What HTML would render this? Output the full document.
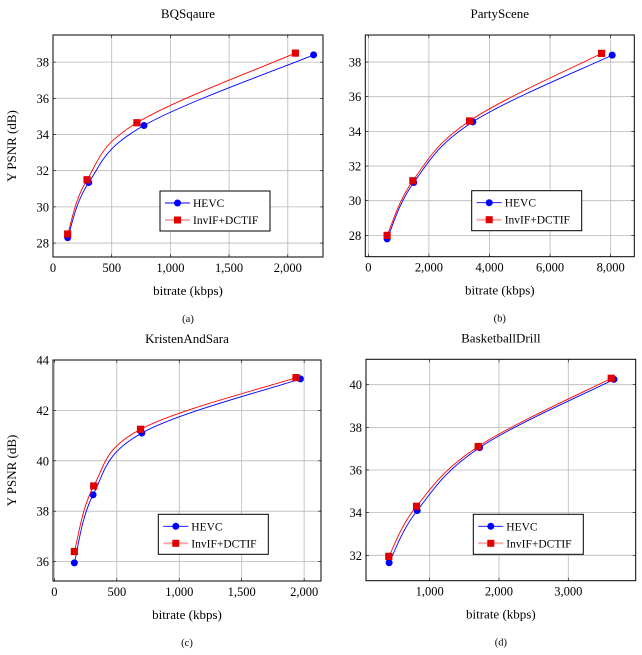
<!DOCTYPE html>
<html><head><meta charset="utf-8"><style>
body{margin:0;background:#fff;}
svg{display:block;}
text{font-family:"Liberation Serif","DejaVu Serif",serif;}
</style></head><body>
<svg id="fig" width="642" height="655" viewBox="0 0 642 655" xmlns="http://www.w3.org/2000/svg" font-family="Liberation Serif, serif"></svg>
<script>
// Panel (a) BQSqaure
const aHevcX=[125,305,775,2220];
const aHevcY=[28.3,31.35,34.5,38.4];
const aInvX=[125,290,715,2065];
const aInvY=[28.5,31.5,34.65,38.5];
const aXTicks=[0,500,1000,1500,2000];
const aXTickLabels=["0","500","1,000","1,500","2,000"];
const aYTicks=[28,30,32,34,36,38];
// Panel (b) PartyScene
const bHevcX=[620,1500,3450,8050];
const bHevcY=[27.8,31.05,34.55,38.4];
const bInvX=[620,1470,3340,7700];
const bInvY=[28,31.15,34.6,38.5];
const bXTicks=[0,2000,4000,6000,8000];
const bXTickLabels=["0","2,000","4,000","6,000","8,000"];
const bYTicks=[28,30,32,34,36,38];
// Panel (c) KristenAndSara
const cHevcX=[160,310,700,1970];
const cHevcY=[35.95,38.65,41.1,43.25];
const cInvX=[160,315,690,1935];
const cInvY=[36.4,39,41.25,43.3];
const cXTicks=[0,500,1000,1500,2000];
const cXTickLabels=["0","500","1,000","1,500","2,000"];
const cYTicks=[36,38,40,42,44];
// Panel (d) BasketballDrill
const dHevcX=[415,820,1720,3660];
const dHevcY=[31.65,34.1,37.05,40.25];
const dInvX=[410,810,1700,3620];
const dInvY=[31.95,34.3,37.1,40.3];
const dXTicks=[1000,2000,3000];
const dXTickLabels=["1,000","2,000","3,000"];
const dYTicks=[32,34,36,38,40];

const NS="http://www.w3.org/2000/svg";
const svg=document.getElementById('fig');
function mk(tag,attrs,parent,text){
  const e=document.createElementNS(NS,tag);
  for(const k in attrs)e.setAttribute(k,attrs[k]);
  if(tag==='text')e.setAttribute('font-family','Liberation Serif, serif');
  if(text!==undefined)e.textContent=text;
  (parent||svg).appendChild(e);return e;
}
function smoothPath(pts){
  let d="M"+pts[0][0]+","+pts[0][1];
  for(let i=0;i<pts.length-1;i++){
    const p0=pts[Math.max(i-1,0)],p1=pts[i],p2=pts[i+1],p3=pts[Math.min(i+2,pts.length-1)];
    const t=0.18;
    const c1=[p1[0]+(p2[0]-p0[0])*t,p1[1]+(p2[1]-p0[1])*t];
    const c2=[p2[0]-(p3[0]-p1[0])*t,p2[1]-(p3[1]-p1[1])*t];
    d+=" C"+c1[0]+","+c1[1]+" "+c2[0]+","+c2[1]+" "+p2[0]+","+p2[1];
  }
  return d;
}
function panel(o){
  const g=mk('g',{});
  
  
  const X=v=>o.x0+(v-o.xmin)/(o.xmax-o.xmin)*(o.x1-o.x0);
  const Y=v=>o.y1-(v-o.ymin)/(o.ymax-o.ymin)*(o.y1-o.y0);
  const grid=mk('g',{stroke:'#b8b8b8','stroke-width':0.8},g);
  
  
  o.xt.forEach(v=>mk('line',{x1:X(v),x2:X(v),y1:o.y0,y2:o.y1},grid));
  o.yt.forEach(v=>mk('line',{x1:o.x0,x2:o.x1,y1:Y(v),y2:Y(v)},grid));
  const tk=mk('g',{stroke:'#000','stroke-width':0.6},g);
  o.xt.forEach(v=>{mk('line',{x1:X(v),x2:X(v),y1:o.y1,y2:o.y1-3},tk);mk('line',{x1:X(v),x2:X(v),y1:o.y0,y2:o.y0+3},tk);});
  o.yt.forEach(v=>{mk('line',{x1:o.x0,x2:o.x0+3,y1:Y(v),y2:Y(v)},tk);mk('line',{x1:o.x1,x2:o.x1-3,y1:Y(v),y2:Y(v)},tk);});
  const xl=mk('g',{'font-size':12.5,'text-anchor':'middle'},g);
  
  
  o.xt.forEach((v,i)=>mk('text',{x:X(v),y:o.y1+15},xl,o.xtl[i]));
  const yl=mk('g',{'font-size':12.5,'text-anchor':'end'},g);
  
  
  o.yt.forEach(v=>mk('text',{x:o.x0-4,y:Y(v)+4.5},yl,String(v)));
  const series=[[o.hx,o.hy,'#0000ff','hevc'],[o.ix,o.iy,'#ff0000','invif-dctif']];
  series.forEach(s=>{
    const pts=s[0].map((v,i)=>[X(v),Y(s[1][i])]);
    const p=mk('path',{d:smoothPath(pts),fill:'none',stroke:s[2],'stroke-width':0.9},g);
    
    
    pts.forEach(q=>{
      let m;
      if(s[3]==='hevc')m=mk('circle',{cx:q[0],cy:q[1],r:3.5,fill:'#0000ff'},g);
      else m=mk('rect',{x:q[0]-3.6,y:q[1]-3.6,width:7.2,height:7.2,fill:'#e00000'},g);
      
      
    });
  });
  mk('rect',{x:o.x0,y:o.y0,width:o.x1-o.x0,height:o.y1-o.y0,fill:'none',stroke:'#000','stroke-width':1},g);
  const L=o.leg;
  const lg=mk('g',{},g);
  
  
  mk('rect',{x:L[0],y:L[1],width:110,height:40,fill:'#fff',stroke:'#000','stroke-width':1},lg);
  const e1=mk('g',{},lg);
  
  
  mk('line',{x1:L[0]+5,x2:L[0]+30,y1:L[1]+12,y2:L[1]+12,stroke:'#0000ff','stroke-width':0.9},e1);
  mk('circle',{cx:L[0]+17.5,cy:L[1]+12,r:3.5,fill:'#0000ff'},e1);
  mk('text',{x:L[0]+33,y:L[1]+16,'font-size':11.5},e1,'HEVC');
  const e2=mk('g',{},lg);
  
  
  mk('line',{x1:L[0]+5,x2:L[0]+30,y1:L[1]+29,y2:L[1]+29,stroke:'#ffaaaa','stroke-width':2},e2);
  mk('rect',{x:L[0]+14,y:L[1]+25.5,width:7,height:7,fill:'#e00000'},e2);
  mk('text',{x:L[0]+33,y:L[1]+33,'font-size':11.5},e2,'InvIF+DCTIF');
  const cx=(o.x0+o.x1)/2;
  const t=mk('text',{x:cx,y:o.y0-17,'font-size':13,'text-anchor':'middle'},g,o.title);
  
  
  const xa=mk('text',{x:cx,y:o.y1+38,'font-size':13,'text-anchor':'middle'},g,'bitrate (kbps)');
  
  
  const cap=mk('text',{x:cx,y:o.y1+65,'font-size':10.5,'text-anchor':'middle'},g,o.cap);
  
  
  if(o.ylab){
    const ya=mk('text',{x:0,y:0,'font-size':13,'text-anchor':'middle',transform:'translate(16,'+((o.y0+o.y1)/2)+') rotate(-90)'},g,'Y PSNR (dB)');
    
    
  }
}
panel({id:'bqsquare',title:'BQSqaure',cap:'(a)',ylab:true,x0:53,x1:323,y0:35,y1:257,xmin:0,xmax:2300,ymin:27.23,ymax:39.5,
  hx:aHevcX,hy:aHevcY,ix:aInvX,iy:aInvY,xt:aXTicks,xtl:aXTickLabels,yt:aYTicks,leg:[160,191]});
panel({id:'partyscene',title:'PartyScene',cap:'(b)',ylab:false,x0:365.3,x1:634.3,y0:35,y1:256.7,xmin:-100,xmax:8780,ymin:26.77,ymax:39.56,
  hx:bHevcX,hy:bHevcY,ix:bInvX,iy:bInvY,xt:bXTicks,xtl:bXTickLabels,yt:bYTicks,leg:[471.7,190.7]});
panel({id:'kristenandsara',title:'KristenAndSara',cap:'(c)',ylab:true,x0:53,x1:321,y0:360,y1:581,xmin:-11,xmax:2135,ymin:35.23,ymax:44,
  hx:cHevcX,hy:cHevcY,ix:cInvX,iy:cInvY,xt:cXTicks,xtl:cXTickLabels,yt:cYTicks,leg:[158.3,514.3]});
panel({id:'basketballdrill',title:'BasketballDrill',cap:'(d)',ylab:false,x0:366,x1:635.7,y0:359.3,y1:580.7,xmin:81,xmax:3973,ymin:30.81,ymax:41.19,
  hx:dHevcX,hy:dHevcY,ix:dInvX,iy:dInvY,xt:dXTicks,xtl:dXTickLabels,yt:dYTicks,leg:[473.3,514.3]});
</script>
</body></html>
